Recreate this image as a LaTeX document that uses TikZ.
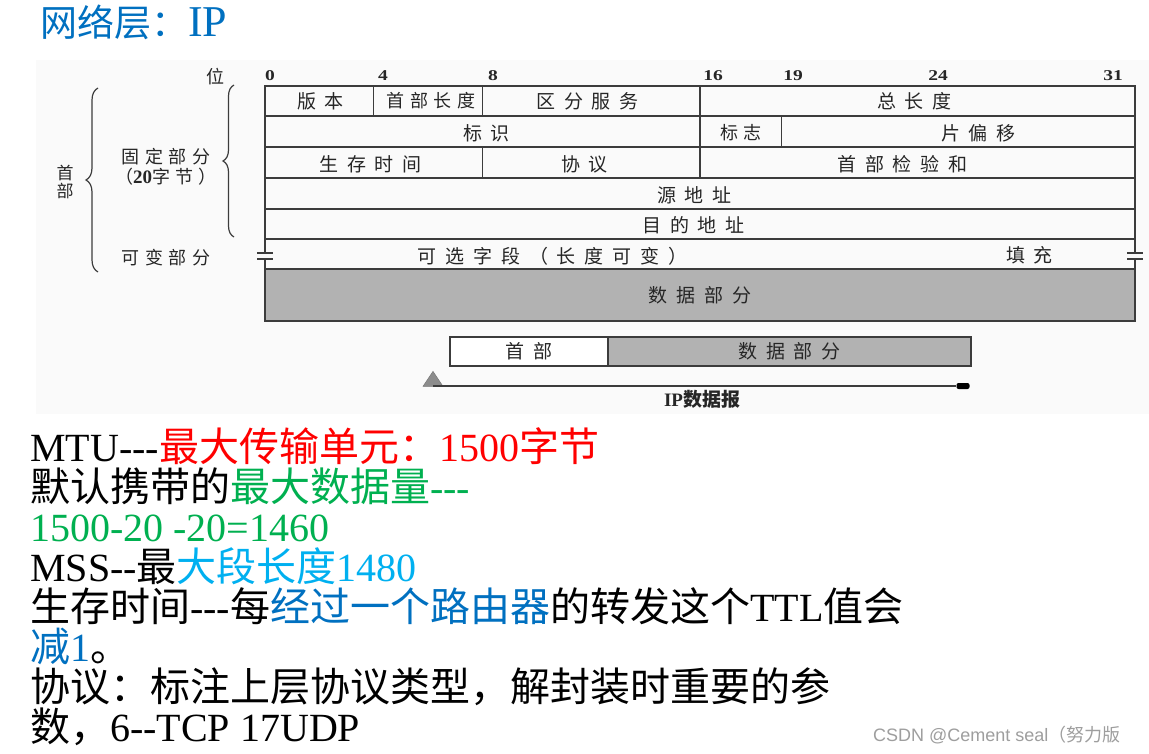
\documentclass[tikz,border=0pt]{standalone}
\usepackage{fontspec}
\setmainfont{Noto Sans CJK SC}
\newfontfamily\lat{Liberation Serif}
\newfontfamily\latwide[FakeStretch=1.3]{Liberation Serif}
\newfontfamily\cjkwide[LetterSpace=47]{Noto Sans CJK SC}
\newfontfamily\cjktight[LetterSpace=30]{Noto Sans CJK SC}
\newfontfamily\wmfont{Liberation Sans}
\usetikzlibrary{decorations.pathreplacing,shapes.geometric}
\definecolor{mtured}{HTML}{FF0000}
\definecolor{mssgreen}{HTML}{00B050}
\definecolor{lightblue}{HTML}{00B0F0}
\definecolor{deepblue}{HTML}{0070C0}
\definecolor{gridline}{HTML}{3C3C3C}
\definecolor{datagray}{HTML}{B2B2B2}
\newcommand{\hyp}{-\kern0pt}

\begin{document}
\begin{tikzpicture}[
    x=1pt, y=-1pt,
    tabline/.style={draw=gridline, line width=1.3pt},
    field/.style={inner sep=0pt, xshift=4.5pt, text=black!85, font=\cjkwide\fontsize{19}{19}\selectfont},
    tfield/.style={inner sep=0pt, xshift=3pt, text=black!85, font=\cjktight\fontsize{18}{18}\selectfont},
    bitnum/.style={inner sep=0pt, text=black!85, font=\latwide\bfseries\fontsize{15}{15}\selectfont},
    cellbox/.style={draw=gridline, line width=1.3pt, inner sep=0pt, text=black!85, font=\cjkwide\fontsize{19}{19}\selectfont},
    hbrace/.style={decorate, decoration={brace, amplitude=12pt}, draw=gridline, line width=1.2pt},
    noteline/.style={anchor=base west, inner sep=0pt, font=\fontsize{40}{40}\selectfont}
]
  \useasboundingbox (0,0) rectangle (1149,754);
  \fill[white] (0,0) rectangle (1149,754);
  \fill[black!2] (36,60) rectangle (1149,414);

  % title
  \node[anchor=base west, inner sep=0pt, text=deepblue, font=\fontsize{37}{37}\selectfont] (title) at (40,37) {网络层：{\lat\fontsize{44}{44}\selectfont IP}};

  % header grid
  \draw[tabline] (265,86) rectangle (1135,239);
  \foreach \y in {116,147,178,209}
    \draw[tabline] (265,\y) -- (1135,\y);
  \foreach \x/\ya/\yb in {373.75/86/116, 482.5/86/116, 482.5/147/178, 700/86/178, 781.56/116/147}
    \draw[tabline] (\x,\ya) -- (\x,\yb);
  \foreach \x in {265,1135} {
    \draw[tabline] (\x,239) -- (\x,253) (\x,259) -- (\x,269);
    \draw[tabline] (\x-8,253) -- (\x+8,253) (\x-8,259) -- (\x+8,259);
  }
  \node[cellbox, fill=datagray, minimum width=870pt, minimum height=52pt] (data) at (700,295) {数据部分};

  % bit positions
  \node[tfield, xshift=0pt] (wei) at (212,77) {位};
  \foreach \x/\b in {270/0, 383/4, 493/8, 713/16, 793/19, 938/24, 1113/31}
    \node[bitnum] (b\b) at (\x,76) {\b};

  % field names
  \foreach \nm/\x/\y/\txt in {ver/316/101/版本, tos/583/101/区分服务, totlen/910/101/总长度,
      ident/482/133/标识, frag/974/133/片偏移, ttl/366/164/生存时间, proto/580/164/协议,
      csum/898/164/首部检验和, src/690/195/源地址, dst/689/225/目的地址,
      opt/548/256/可选字段（长度可变）, pad/1025/255/填充}
    \node[field] (\nm) at (\x,\y) {\txt};
  \foreach \nm/\x/\y/\txt in {ihl/428/101/首部长度, flags/738/133/标志, fixed/163/157/固定部分,
      var/163/258/可变部分}
    \node[tfield] (\nm) at (\x,\y) {\txt};
  \node[tfield] (fixlen) at (163,177) {（{\lat\bfseries\fontsize{19}{19}\selectfont 20}字节）};

  % braces
  \draw[hbrace] (98,272) -- (98,88);
  \draw[hbrace, decoration={amplitude=11pt}] (234,237) -- (234,85);
  \node[inner sep=0pt, align=center, text=black!85, font=\fontsize{17}{18}\selectfont] (hd) at (65,182) {首\\部};

  % datagram bar
  \node[cellbox, fill=white, minimum width=158pt, minimum height=29pt] (hdr) at (529,351.5) {首部};
  \node[cellbox, fill=datagray, minimum width=363pt, minimum height=29pt] (pay) at (789.5,351.5) {数据部分};
  \node[isosceles triangle, shape border rotate=90, isosceles triangle stretches, fill=black!45, draw=black!55,
        minimum height=15pt, minimum width=20pt, inner sep=0pt] (tri) at (433,381) {};
  \coordinate (astart) at (433,386);
  \node[fill=black, rounded corners=2pt, minimum width=13pt, minimum height=6pt, inner sep=0pt] (tail) at (963,386) {};
  \draw[draw=gridline, line width=1.3pt] (astart) -- (tail);
  \node[inner sep=0pt, text=black!85, font=\fontsize{19}{19}\selectfont\bfseries] (iplabel) at (702,399) {{\lat\bfseries IP}数据报};

  % notes
  \node[noteline] (mtu) at (30,461) {{\lat MTU\hyp\hyp-}\textcolor{mtured}{最大传输单元：{\lat 1500}字节}};
  \node[noteline] (maxdata) at (30,501) {默认携带的\textcolor{mssgreen}{最大数据量{\lat\hyp\hyp-}}};
  \node[noteline, text=mssgreen] (calc) at (30,541) {{\lat 1500-20 -20=1460}};
  \node[noteline] (mss) at (30,581) {{\lat MSS\hyp-}最\textcolor{lightblue}{大段长度{\lat 1480}}};
  \node[noteline] (ttlnote) at (30,621) {生存时间{\lat\hyp\hyp-}每\textcolor{deepblue}{经过一个路由器}的转发这个{\lat TTL}值会};
  \node[noteline] (dec) at (30,661) {\textcolor{deepblue}{减{\lat 1}}。};
  \node[noteline] (protonote) at (30,701) {协议：标注上层协议类型，解封装时重要的参};
  \node[noteline] (protonum) at (30,741) {数，{\lat 6\hyp-TCP 17UDP}};

  \node[anchor=base west, inner sep=0pt, text=black!38, font=\fontsize{18}{18}\selectfont] (wm) at (873,741) {{\wmfont CSDN @Cement seal}（努力版};
\end{tikzpicture}
\end{document}
